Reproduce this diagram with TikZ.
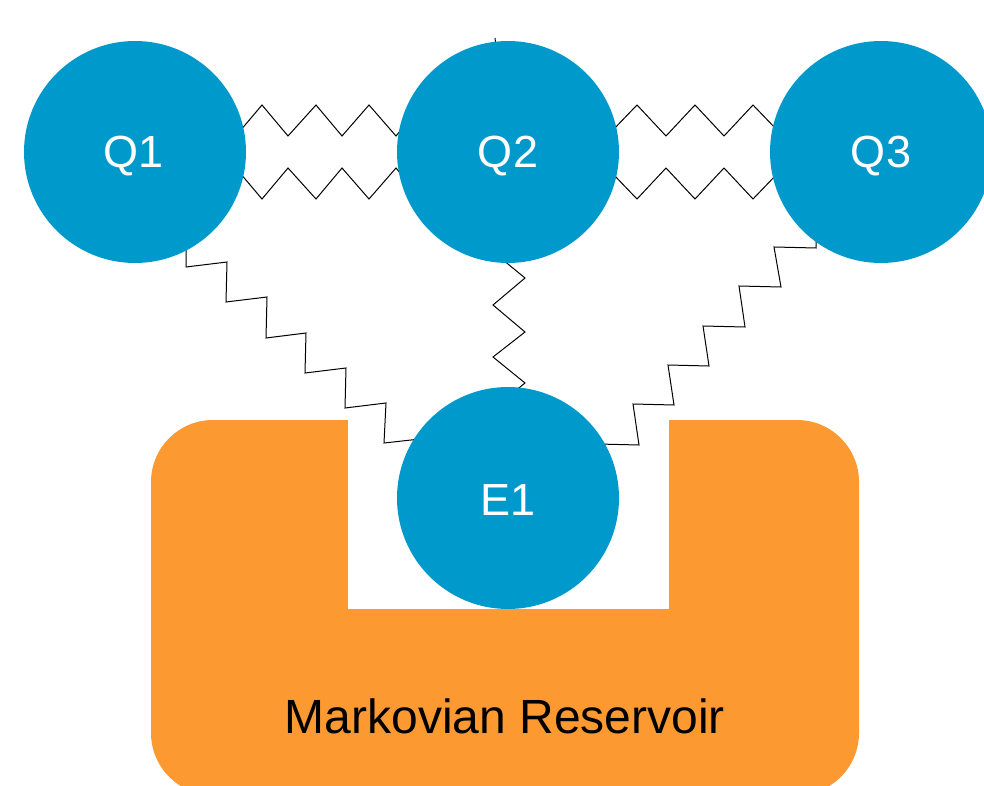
\documentclass[tikz,border=0pt]{standalone}
\usepackage{fontspec}
\setmainfont{Liberation Sans}
\usetikzlibrary{backgrounds}
\definecolor{qblue}{RGB}{0,153,204}
\definecolor{resorange}{RGB}{253,153,49}
\begin{document}
\begin{tikzpicture}[x=1pt,y=-1pt,
  qubit/.style={circle,fill=qblue,draw=none,minimum size=222pt,inner sep=0pt,text=white,font=\fontsize{45}{50}\selectfont},
  qlabel/.style={text=white,font=\fontsize{45}{50}\selectfont,anchor=base,inner sep=0pt},
  spring/.style={draw=black,line width=1pt,line join=miter},
  reservoir/.style={fill=resorange,rounded corners=62pt},
  notch/.style={fill=white},
  reslabel/.style={font=\fontsize{48}{54}\selectfont,text=black,anchor=base,inner sep=0pt}]
\useasboundingbox (0,0) rectangle (984,786);
\clip (0,0) rectangle (984,786);
% qubits and environment
\node[qubit] (Q1) at (135,152) {};
\node[qubit] (Q2) at (508,152) {};
\node[qubit] (Q3) at (881,152) {};
\node[qubit] (E1) at (508,498) {};
\node[qlabel] (tQ1) at (134,168) {Q1};
\node[qlabel] (tQ2) at (508,168) {Q2};
\node[qlabel] (tQ3) at (881,168) {Q3};
\node[qlabel] (tE1) at (508,515) {E1};
\coordinate (tick) at (495,38);
\begin{scope}[on background layer]
  % reservoir
  \fill[reservoir] (151,420) rectangle (859,795);
  \fill[notch] (348,418) rectangle (669,609);
  % springs Q1-Q2
  \draw[spring] (Q1.center) -- (240,131) -- (262,105) -- (288,136) -- (316,105) -- (342,136) -- (369,105) -- (396,136) -- (410,119) -- (Q2.center);
  \draw[spring] (Q1.center) -- (240,173) -- (262,199) -- (288,168) -- (316,199) -- (342,168) -- (369,199) -- (396,168) -- (410,185) -- (Q2.center);
  % springs Q2-Q3
  \draw[spring] (Q2.center) -- (612,131) -- (637,105) -- (666,136) -- (695,105) -- (724,136) -- (753,105) -- (778,131) -- (Q3.center);
  \draw[spring] (Q2.center) -- (612,173) -- (637,199) -- (666,168) -- (695,199) -- (724,168) -- (753,199) -- (778,173) -- (Q3.center);
  % spring Q1-E1
  \draw[spring] (Q1.center) -- (186,240) -- (186,267) -- (227,262) -- (226,302) -- (267,297) -- (266,338) -- (306,333) -- (305,373) -- (346,368) -- (345,408) -- (386,403) -- (384,443) -- (420,439) -- (E1.center);
  % spring Q2-E1
  \draw[spring] (tick) -- (Q2.center) -- (497,255) -- (525,278) -- (493,305) -- (525,332) -- (493,357) -- (525,383) -- (493,409) -- (E1.center);
  % spring Q3-E1
  \draw[spring] (Q3.center) -- (816,230) -- (816,248) -- (774,247) -- (781,287) -- (739,286) -- (745,327) -- (703,326) -- (709,366) -- (668,365) -- (674,405) -- (633,404) -- (639,445) -- (598,444) -- (E1.center);
\end{scope}
\node[reslabel] (res) at (505,733) {Markovian Reservoir};
\end{tikzpicture}
\end{document}
